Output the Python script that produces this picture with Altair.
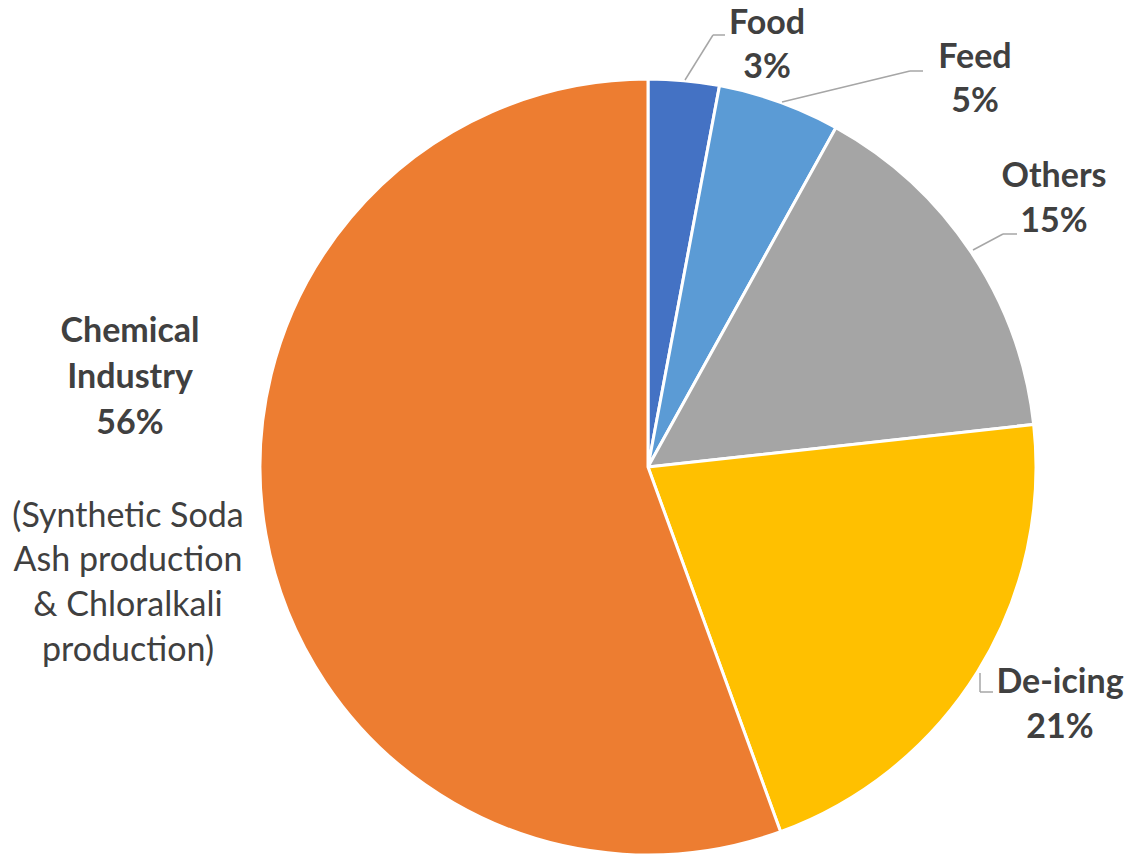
import altair as alt
import pandas as pd

# ---- data ----
categories = ["Food", "Feed", "Others", "De-icing", "Chemical Industry"]
shares = [2.95, 5.1, 15.2, 21.2, 55.55]
pct_labels = ["3%", "5%", "15%", "21%", "56%"]
colors = ["#4472C4", "#5B9BD5", "#A5A5A5", "#FFC000", "#ED7D31"]
chem_note = ["(Synthetic Soda", "Ash production", "& Chloralkali", "production)"]

df = pd.DataFrame({"category": categories, "share": shares,
                   "order": list(range(len(categories)))})

W, H = 1127, 855
CX, CY, R = 648, 467, 388
TXT = "#404040"
LINE = "#A6A6A6"
FONT = "Lato"
FS = 34

pie = alt.Chart(df).mark_arc(radius=R, stroke="white", strokeWidth=3).encode(
    theta=alt.Theta("share:Q", stack=True),
    order=alt.Order("order:Q"),
    color=alt.Color("category:N", scale=alt.Scale(domain=categories, range=colors), legend=None),
    x=alt.value(CX), y=alt.value(CY),
)

# label placement (style): name-line center, pct-line center
label_pos = {
    "Food": (767, 22, 66),
    "Feed": (975, 56, 100),
    "Others": (1054, 175, 220),
    "De-icing": (1060, 681, 726),
}

base = alt.Chart(pd.DataFrame({"k": [0]}))
layers = [pie]

for cat, pct in zip(categories, pct_labels):
    if cat in label_pos:
        x, y1, y2 = label_pos[cat]
        for t, yy in ((cat, y1), (pct, y2)):
            layers.append(base.mark_text(text=t, font=FONT, fontSize=FS, fontWeight="bold",
                                         color=TXT, align="center", baseline="middle").encode(
                x=alt.value(x), y=alt.value(yy + 2)))

# Chemical industry label
for t, yy in (("Chemical", 330), ("Industry", 376), (pct_labels[4], 422)):
    layers.append(base.mark_text(text=t, font=FONT, fontSize=FS, fontWeight="bold",
                                 color=TXT, align="center", baseline="middle").encode(
        x=alt.value(130), y=alt.value(yy + 2)))
for t, yy in zip(chem_note, (515, 559, 604, 649)):
    layers.append(base.mark_text(text=t, font=FONT, fontSize=FS, fontWeight="normal",
                                 color=TXT, align="center", baseline="middle").encode(
        x=alt.value(128), y=alt.value(yy + 2)))

# leader lines (annotation style)
segments = [
    (685, 80, 713, 35), (713, 35, 725, 35),
    (782, 102, 910, 71), (910, 71, 923, 71),
    (973, 250, 1003, 234), (1003, 234, 1017, 234),
    (980, 673, 980, 692), (980, 692, 993, 692),
]
for x1, y1, x2, y2 in segments:
    layers.append(base.mark_rule(color=LINE, strokeWidth=1.5).encode(
        x=alt.value(x1), y=alt.value(y1), x2=alt.value(x2), y2=alt.value(y2)))

chart = alt.layer(*layers).properties(
    width=W, height=H, autosize=alt.AutoSizeParams(type="none"), padding=0,
    background="white"
).configure_view(stroke=None)

chart.save("out.html", embed_options={"renderer": "svg", "actions": False})
